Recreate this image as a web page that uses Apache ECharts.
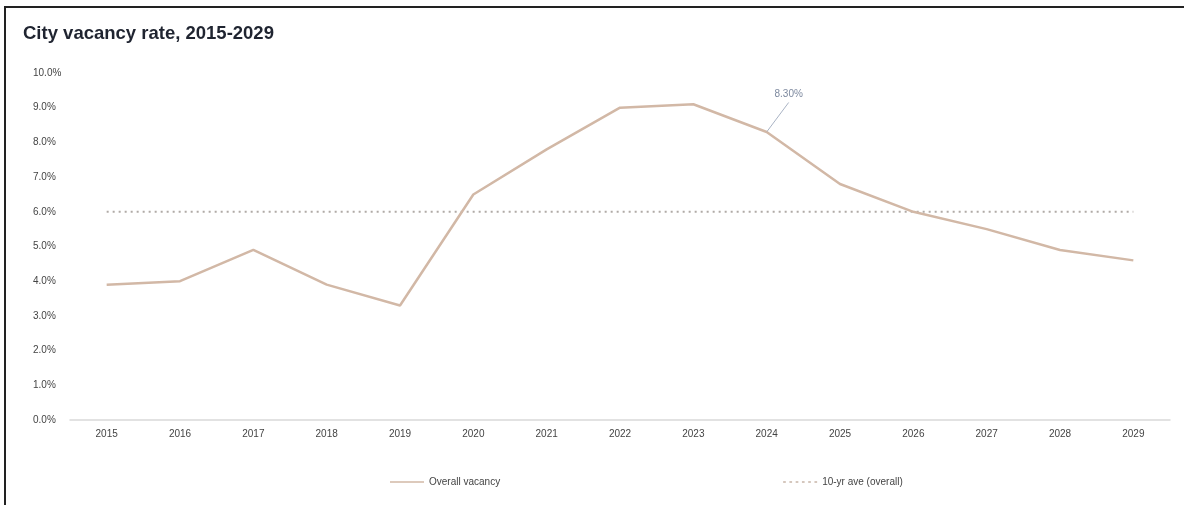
<!DOCTYPE html>
<html>
<head>
<meta charset="utf-8">
<script src="https://cdn.jsdelivr.net/npm/echarts@6/dist/echarts.min.js"></script>
<style>
html,body{margin:0;padding:0;background:#fff;}
#frame{position:absolute;left:4px;top:6px;width:1180px;height:499px;border-top:2px solid #222;border-left:2px solid #222;box-sizing:border-box;}
#chart{position:absolute;left:0;top:0;width:1184px;height:505px;}
</style>
</head>
<body>
<div id="frame"></div>
<div id="chart"></div>
<script>
const years = ['2015','2016','2017','2018','2019','2020','2021','2022','2023','2024','2025','2026','2027','2028','2029'];
const overallVacancy = [3.9, 4.0, 4.9, 3.9, 3.3, 6.5, 7.8, 9.0, 9.1, 8.3, 6.8, 6.0, 5.5, 4.9, 4.6];
const tenYearAve = [6.0, 6.0, 6.0, 6.0, 6.0, 6.0, 6.0, 6.0, 6.0, 6.0, 6.0, 6.0, 6.0, 6.0, 6.0];
const annotatedYear = '2024';

const FONT = 'Liberation Sans, Arial';
const LINE_COLOR = '#d2b8a6';
const chart = echarts.init(document.getElementById('chart'));
chart.setOption({
  backgroundColor: 'transparent',
  animation: false,
  title: {
    text: 'City vacancy rate, 2015-2029',
    left: 18, top: 19,
    textStyle: {fontFamily: FONT, fontSize: 18.5, fontWeight: 'bold', color: '#1f2430'}
  },
  legend: {
    bottom: 13, left: 385,
    itemGap: 283,
    itemWidth: 34, itemHeight: 8,
    textStyle: {fontFamily: FONT, fontSize: 10, color: '#444'},
    data: [
      {name: 'Overall vacancy', icon: 'path://M0,4 L40,4 L40,5.6 L0,5.6 Z', itemStyle: {color: LINE_COLOR}},
      {name: '10-yr ave (overall)', icon: 'path://M0,4 L3,4 L3,5.6 L0,5.6 Z M7,4 L10,4 L10,5.6 L7,5.6 Z M14,4 L17,4 L17,5.6 L14,5.6 Z M21,4 L24,4 L24,5.6 L21,5.6 Z M28,4 L31,4 L31,5.6 L28,5.6 Z M35,4 L38,4 L38,5.6 L35,5.6 Z'}
    ]
  },
  grid: {left: 70, right: 14, top: 73, bottom: 85, containLabel: false},
  xAxis: {
    type: 'category',
    data: years,
    boundaryGap: true,
    axisLine: {lineStyle: {color: '#d9d9d9', width: 1.5}},
    axisTick: {show: false},
    axisLabel: {fontFamily: FONT, fontSize: 10, color: '#444', margin: 9}
  },
  yAxis: {
    type: 'value',
    min: 0, max: 10, interval: 1,
    splitLine: {show: false},
    axisLine: {show: false},
    axisTick: {show: false},
    axisLabel: {fontFamily: FONT, fontSize: 10, color: '#444', margin: 37,
      align: 'left', formatter: v => v.toFixed(1) + '%'}
  },
  series: [
    {
      name: 'Overall vacancy',
      type: 'line',
      data: overallVacancy,
      symbol: 'none',
      lineStyle: {color: LINE_COLOR, width: 2.5},
      itemStyle: {color: LINE_COLOR},
      emphasis: {disabled: true},
      z: 3
    },
    {
      name: '10-yr ave (overall)',
      type: 'line',
      data: tenYearAve,
      symbol: 'none',
      lineStyle: {color: '#b0aaa6', width: 2, type: [2, 4]},
      itemStyle: {color: '#c8b5a8'},
      z: 2
    },
    {
      name: 'annotation',
      type: 'scatter',
      data: [[annotatedYear, overallVacancy[years.indexOf(annotatedYear)]]],
      symbolSize: 1,
      itemStyle: {color: LINE_COLOR},
      label: {show: true, position: 'top', formatter: p => p.value[1].toFixed(2) + '%',
        fontFamily: FONT, fontSize: 10, lineHeight: 16, color: '#5b6a86'},
      labelLine: {show: true, lineStyle: {color: '#a9b3c4', width: 1}},
      labelLayout: {dx: 22, dy: -24},
      emphasis: {disabled: true},
      silent: true,
      z: 4
    }
  ]
});
</script>
</body>
</html>
